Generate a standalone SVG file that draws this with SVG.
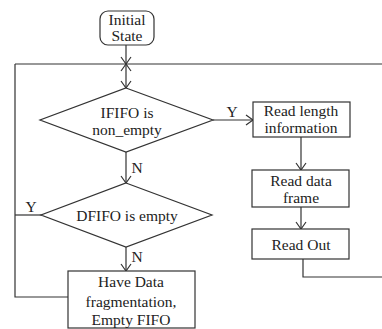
<svg xmlns="http://www.w3.org/2000/svg" width="382" height="329" viewBox="0 0 382 329">
<style>
.s{fill:#fff;stroke:#333;stroke-width:1.2}
.c{fill:none;stroke:#333;stroke-width:1.2}
.t{font-family:'Liberation Serif','DejaVu Serif',serif;font-size:15.5px;fill:#222;text-anchor:middle}
</style>
<defs>
<marker id="a" markerWidth="12" markerHeight="12" refX="10" refY="6" orient="auto" markerUnits="userSpaceOnUse">
<path d="M3,1 L10,6 L3,11" fill="none" stroke="#333" stroke-width="1.2"/>
</marker>
</defs>
<rect width="382" height="329" fill="#fff"/>
<g id="connectors">
<path class="c" d="M126,45 V88" marker-end="url(#a)"/>
<path class="c" d="M121,57 L131,71 M131,57 L121,71"/>
<path class="c" d="M15,64 H382"/>
<path class="c" d="M15,64 V297 H68"/>
<path class="c" d="M42,215 H15"/>
<path class="c" d="M213,120 H253" marker-end="url(#a)"/>
<path class="c" d="M301,137 V170" marker-end="url(#a)"/>
<path class="c" d="M301,207 V229" marker-end="url(#a)"/>
<path class="c" d="M303,259 V277 H382"/>
<path class="c" d="M126,152 V183" marker-end="url(#a)"/>
<path class="c" d="M126,247 V271" marker-end="url(#a)"/>
<text class="t" x="232" y="117">Y</text>
<text class="t" x="31" y="212">Y</text>
<text class="t" x="137" y="173">N</text>
<text class="t" x="137" y="262">N</text>
</g>
<g id="initial">
<rect class="s" x="100" y="11" width="54" height="34" rx="8"/>
<text class="t" x="127" y="25">Initial</text>
<text class="t" x="127" y="41">State</text>
</g>
<g id="ififo">
<path class="s" d="M126,88 L213,120 L126,152 L40,120 Z"/>
<text class="t" x="127" y="118">IFIFO is</text>
<text class="t" x="127" y="135">non_empty</text>
</g>
<g id="dfifo">
<path class="s" d="M126,183 L212,215 L126,247 L41,215 Z"/>
<text class="t" x="127" y="221">DFIFO is empty</text>
</g>
<g id="havedata">
<rect class="s" x="68" y="271" width="127" height="57"/>
<text class="t" x="131" y="287">Have Data</text>
<text class="t" x="131" y="307">fragmentation,</text>
<text class="t" x="131" y="325">Empty FIFO</text>
</g>
<g id="readlength">
<rect class="s" x="253" y="102" width="97" height="35"/>
<text class="t" x="301" y="116">Read length</text>
<text class="t" x="301" y="133">information</text>
</g>
<g id="readdata">
<rect class="s" x="252" y="170" width="97" height="37"/>
<text class="t" x="301" y="186">Read data</text>
<text class="t" x="301" y="203">frame</text>
</g>
<g id="readout">
<rect class="s" x="252" y="229" width="97" height="30"/>
<text class="t" x="301" y="250">Read Out</text>
</g>
</svg>
